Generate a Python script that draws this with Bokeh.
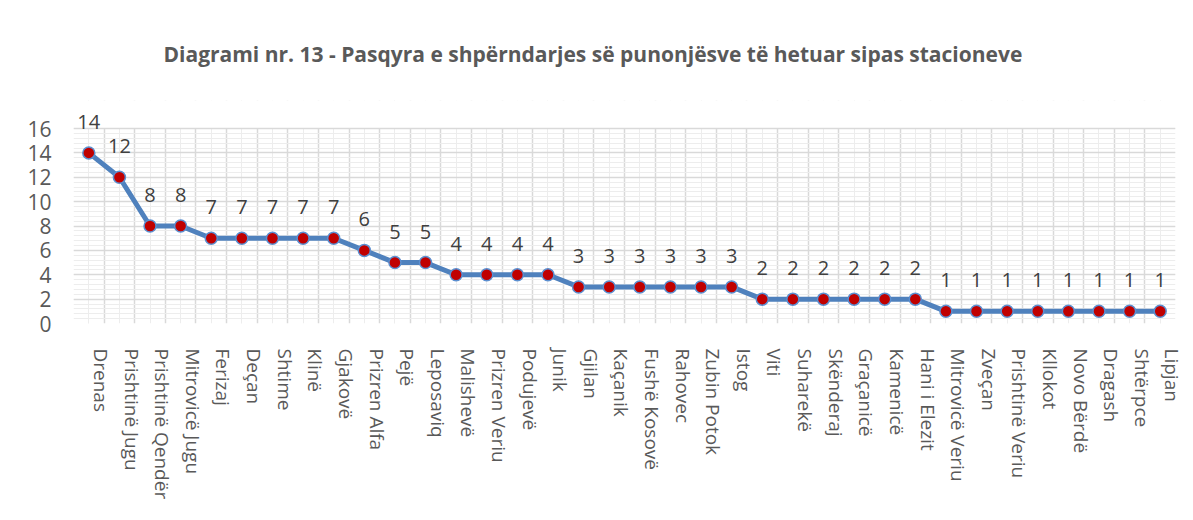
from bokeh.plotting import figure
from bokeh.models import (Range1d, LinearAxis, FixedTicker, Grid, ColumnDataSource, Title,
                          LabelSet, BoxAnnotation)
from bokeh.core.properties import value
from bokeh.embed import file_html
from bokeh.resources import INLINE

title_text = "Diagrami nr. 13 - Pasqyra e shpërndarjes së punonjësve të hetuar sipas stacioneve"

stations = ["Drenas", "Prishtinë Jugu", "Prishtinë Qendër", "Mitrovicë Jugu", "Ferizaj", "Deçan",
            "Shtime", "Klinë", "Gjakovë", "Prizren Alfa", "Pejë", "Leposaviq", "Malishevë",
            "Prizren Veriu", "Podujevë", "Junik", "Gjilan", "Kaçanik", "Fushë Kosovë", "Rahovec",
            "Zubin Potok", "Istog", "Viti", "Suharekë", "Skënderaj", "Graçanicë", "Kamenicë",
            "Hani i Elezit", "Mitrovicë Veriu", "Zveçan", "Prishtinë Veriu", "Kllokot",
            "Novo Bërdë", "Dragash", "Shtërpce", "Lipjan"]
employees = [14, 12, 8, 8, 7, 7, 7, 7, 7, 6, 5, 5, 4, 4, 4, 4, 3, 3, 3, 3, 3, 3,
             2, 2, 2, 2, 2, 2, 1, 1, 1, 1, 1, 1, 1, 1]
y_ticks = [0, 2, 4, 6, 8, 10, 12, 14, 16]

FONT = "Open Sans"
n = len(stations)
idx = list(range(n))  # category slot index of each station
y_max = y_ticks[-1]
y_minor = [k * 0.4 for k in range(int(y_max / 0.4) + 1)]

src = ColumnDataSource(dict(x=idx, name=stations, y=employees, lbl=[str(v) for v in employees]))

# the value axis ends at 16; a little head-room above it keeps the top data label visible
p = figure(width=1193, height=520, output_backend="svg", toolbar_location=None,
           x_range=Range1d(-0.5, n - 0.5),
           y_range=Range1d(0, 18.3), x_axis_location=None,
           min_border_left=73, min_border_right=18, min_border_top=100, min_border_bottom=197,
           outline_line_color=None, background_fill_color="white", border_fill_color="white")

p.title = Title(text=title_text, align="left", offset=90, standoff=65,
                text_font=FONT, text_font_size="21px", text_font_style="bold",
                text_color="#595959")

# label axis range, shifted like the reference's category labels
p.extra_x_ranges = {"lbl": Range1d(-0.9, n - 0.9)}

# y axis
yticker = FixedTicker(ticks=y_ticks, minor_ticks=y_minor)
p.yaxis.ticker = yticker
p.yaxis.axis_line_color = None
p.yaxis.major_tick_line_color = None
p.yaxis.minor_tick_line_color = None
p.yaxis.major_label_standoff = 16
p.yaxis.major_label_text_font = FONT
p.yaxis.major_label_text_font_size = "21px"
p.yaxis.major_label_text_color = "#595959"

ygrid = p.ygrid[0]
ygrid.ticker = yticker
ygrid.grid_line_color = "#d9d9d9"
ygrid.grid_line_width = 1.5
ygrid.minor_grid_line_color = "#ededed"
ygrid.minor_grid_line_width = 1
p.center = [r for r in p.center if r is not ygrid]

# vertical grid: major lines at category boundaries, minor lines at centres
vgrid = Grid(dimension=0,
             ticker=FixedTicker(ticks=[i - 0.5 for i in range(n + 1)], minor_ticks=idx),
             grid_line_color="#d9d9d9", grid_line_width=1.5,
             minor_grid_line_color="#ededed", minor_grid_line_width=1)
p.add_layout(vgrid, "center")
# blank out the head-room above the top of the value axis
p.add_layout(BoxAnnotation(bottom=y_max, fill_color="white", fill_alpha=1.0,
                           line_alpha=0, level="underlay"), "center")
p.add_layout(ygrid, "center")

# category label axis
xax = LinearAxis(x_range_name="lbl", ticker=FixedTicker(ticks=idx),
                 major_label_overrides={i: s for i, s in zip(idx, stations)},
                 major_label_orientation="vertical",
                 axis_line_color=None, major_tick_line_color=None, minor_tick_line_color=None,
                 major_label_standoff=19, major_label_text_font=FONT,
                 major_label_text_font_size="19px", major_label_text_color="#595959")
p.add_layout(xax, "below")

p.line("x", "y", source=src, line_color="#4f81bd", line_width=5, line_join="round")
p.scatter("x", "y", source=src, size=12, fill_color="#c00000", line_color="#5b8fd0", line_width=1.5)
labels = LabelSet(x="x", y="y", text="lbl", source=src, text_align="center",
                  text_baseline="middle", y_offset=31, text_font=value(FONT),
                  text_font_size=value("20px"), text_color=value("#404040"))
p.add_layout(labels)

open("out.html", "w").write(file_html(p, INLINE))
